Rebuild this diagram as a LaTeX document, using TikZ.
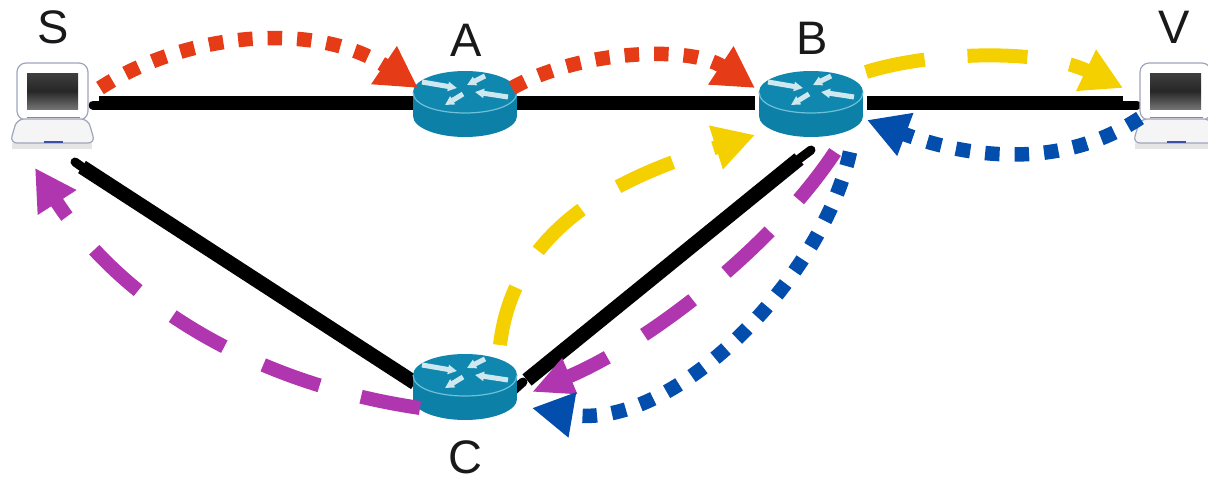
\documentclass[tikz,border=0pt]{standalone}
\usepackage{fontspec}
\setmainfont{Liberation Sans}
\usetikzlibrary{arrows.meta}
\definecolor{redc}{HTML}{E53B17}
\definecolor{yelc}{HTML}{F5D000}
\definecolor{purc}{HTML}{B036B0}
\definecolor{bluc}{HTML}{034EAC}
\definecolor{rtop}{HTML}{0F87AF}
\definecolor{rside}{HTML}{0C80A6}
\definecolor{rrim}{HTML}{6FC0D8}
\definecolor{rarr}{HTML}{CFE8F0}
\definecolor{lapedge}{HTML}{A0A4BC}
\definecolor{lapblue}{HTML}{3C50A8}
\tikzset{
  x=1pt,y=-1pt,
  hubbox/.style={minimum width=104pt,minimum height=66pt,inner sep=0pt,outer sep=0pt},
  hostbox/.style={minimum width=85pt,minimum height=86pt,inner sep=0pt,outer sep=0pt},
  lab/.style={font=\fontsize{47}{47}\selectfont,inner sep=0pt,text=black!90},
  link/.style={line width=14.5pt,black},
  nub/.style={line width=9pt,black,line cap=round},
  dotted path/.style={line width=14.5pt,dash pattern=on 14.5pt off 15pt},
  dashed path/.style={line width=14pt,dash pattern=on 60pt off 43pt},
  tip/.style={-{Triangle[length=41pt,width=43pt]}},
  sliptip/.style={-{Triangle[length=41pt,width=36pt]}},
  rarrow/.style={line width=5pt,rarr,-{Triangle[length=9pt,width=9pt]}},
  routericon/.pic={
    \fill[rside] (-52,-11) rectangle (52,13);
    \fill[rside] (0,13) ellipse [x radius=52pt,y radius=21pt];
    \fill[rtop] (0,-11) ellipse [x radius=52pt,y radius=21pt];
    \draw[rrim,line width=1.2pt] (-52,-11) .. controls (-52,17) and (52,17) .. (52,-11);
    \draw[rarrow] (-43,-21) -- (-8,-15);
    \draw[rarrow] (20,-27) -- (2,-18);
    \draw[rarrow] (43,-6) -- (10,-11);
    \draw[rarrow] (-2,-9) -- (-20,2);
  },
  laptopicon/.pic={
    \fill[black!10] (-40,40) rectangle (40,46);
    \draw[lapedge,fill=white,line width=1.2pt,rounded corners=9pt] (-35,17) -- (-35,-40) -- (36,-40) -- (36,17) -- cycle;
    \shade[top color=black!75,bottom color=black!55,middle color=black!85] (-25,-30) rectangle (26,6);
    \draw[lapblue!70,line width=1pt] (-25,14) -- (28,14);
    \draw[lapedge,fill=black!4,line width=1.2pt,rounded corners=7pt] (-35,16) -- (36,16) -- (43,40) -- (-42,40) -- cycle;
    \draw[lapblue,line width=2.5pt] (-8,39) -- (11,39);
  },
}
\begin{document}
\begin{tikzpicture}
\useasboundingbox (0,0) rectangle (1208,482);
\clip (0,0) rectangle (1208,482);
% nodes
\node[hostbox] (S) at (52,103) {};
\node[hubbox] (A) at (465,103) {};
\node[hubbox] (B) at (811,103) {};
\node[hubbox] (C) at (465,386) {};
\node[hostbox] (V) at (1175,103) {};
% links
\draw[nub] ([shift={(41,2)}]S.center) -- ([shift={(50,2)}]S.center);
\draw[nub] ([shift={(-38,2)}]V.center) -- ([shift={(-52,2)}]V.center);
\draw[nub] ([shift={(23,59)}]S.center) -- ([shift={(30,64)}]S.center);
\draw[nub] ([shift={(0,47)}]B.center) -- ([shift={(-12,56)}]B.center);
\draw[nub] ([shift={(58,-4)}]C.center) -- ([shift={(48,5)}]C.center);
\draw[link] ([shift={(47,0)}]S.center) -- (A.west);
\draw[link] (A.east) -- ([shift={(-56,0)}]B.center);
\draw[link] ([shift={(56,0)}]B.center) -- ([shift={(-52,0)}]V.center);
\draw[line width=14.5pt] ([shift={(30,64)}]S.center) -- ([shift={(-50,-3)}]C.center);
\draw[line width=14.5pt] ([shift={(-12,56)}]B.center) -- ([shift={(62,-6)}]C.center);
% icons
\pic at (S) {laptopicon};
\pic at (V) {laptopicon};
\pic at (A.center) {routericon};
\pic at (B.center) {routericon};
\pic at (C.center) {routericon};
% labels
\node[lab] (lS) at (53,27) {S};
\node[lab] (lA) at (466,40) {A};
\node[lab] (lB) at (812,38) {B};
\node[lab] (lC) at (465,457) {C};
\node[lab] (lV) at (1174,27) {V};
% flows
\draw[redc,dotted path,tip] ([shift={(48,-15)}]S.center) .. controls (190,30) and (320,22) .. ([shift={(-47,-15)}]A.center);
\draw[redc,dotted path,tip] ([shift={(47,-15)}]A.center) .. controls (580,50) and (690,45) .. ([shift={(-56,-15)}]B.center);
\draw[yelc,dashed path,tip] ([shift={(55,-31)}]B.center) .. controls (930,52) and (1040,48) .. ([shift={(-52,-15)}]V.center);
\draw[bluc,dotted path,tip] ([shift={(-35,15)}]V.center) .. controls (1060,171) and (965,157) .. ([shift={(56,17)}]B.center);
\draw[yelc,dashed path,tip] ([shift={(35,-41)}]C.center) .. controls (515,215) and (642,171) .. ([shift={(-56,32)}]B.center);
\draw[purc,dashed path,sliptip] ([shift={(24,49)}]B.center) .. controls (770,250) and (646,344) .. ([shift={(67,6)}]C.center);
\draw[bluc,dotted path,tip] ([shift={(39,49)}]B.center) .. controls (822,280) and (672,432) .. ([shift={(67,22)}]C.center);
\draw[purc,dashed path,tip] ([shift={(-45,22)}]C.center) .. controls (230,380) and (110,285) .. ([shift={(-17,65)}]S.center);
\end{tikzpicture}
\end{document}
